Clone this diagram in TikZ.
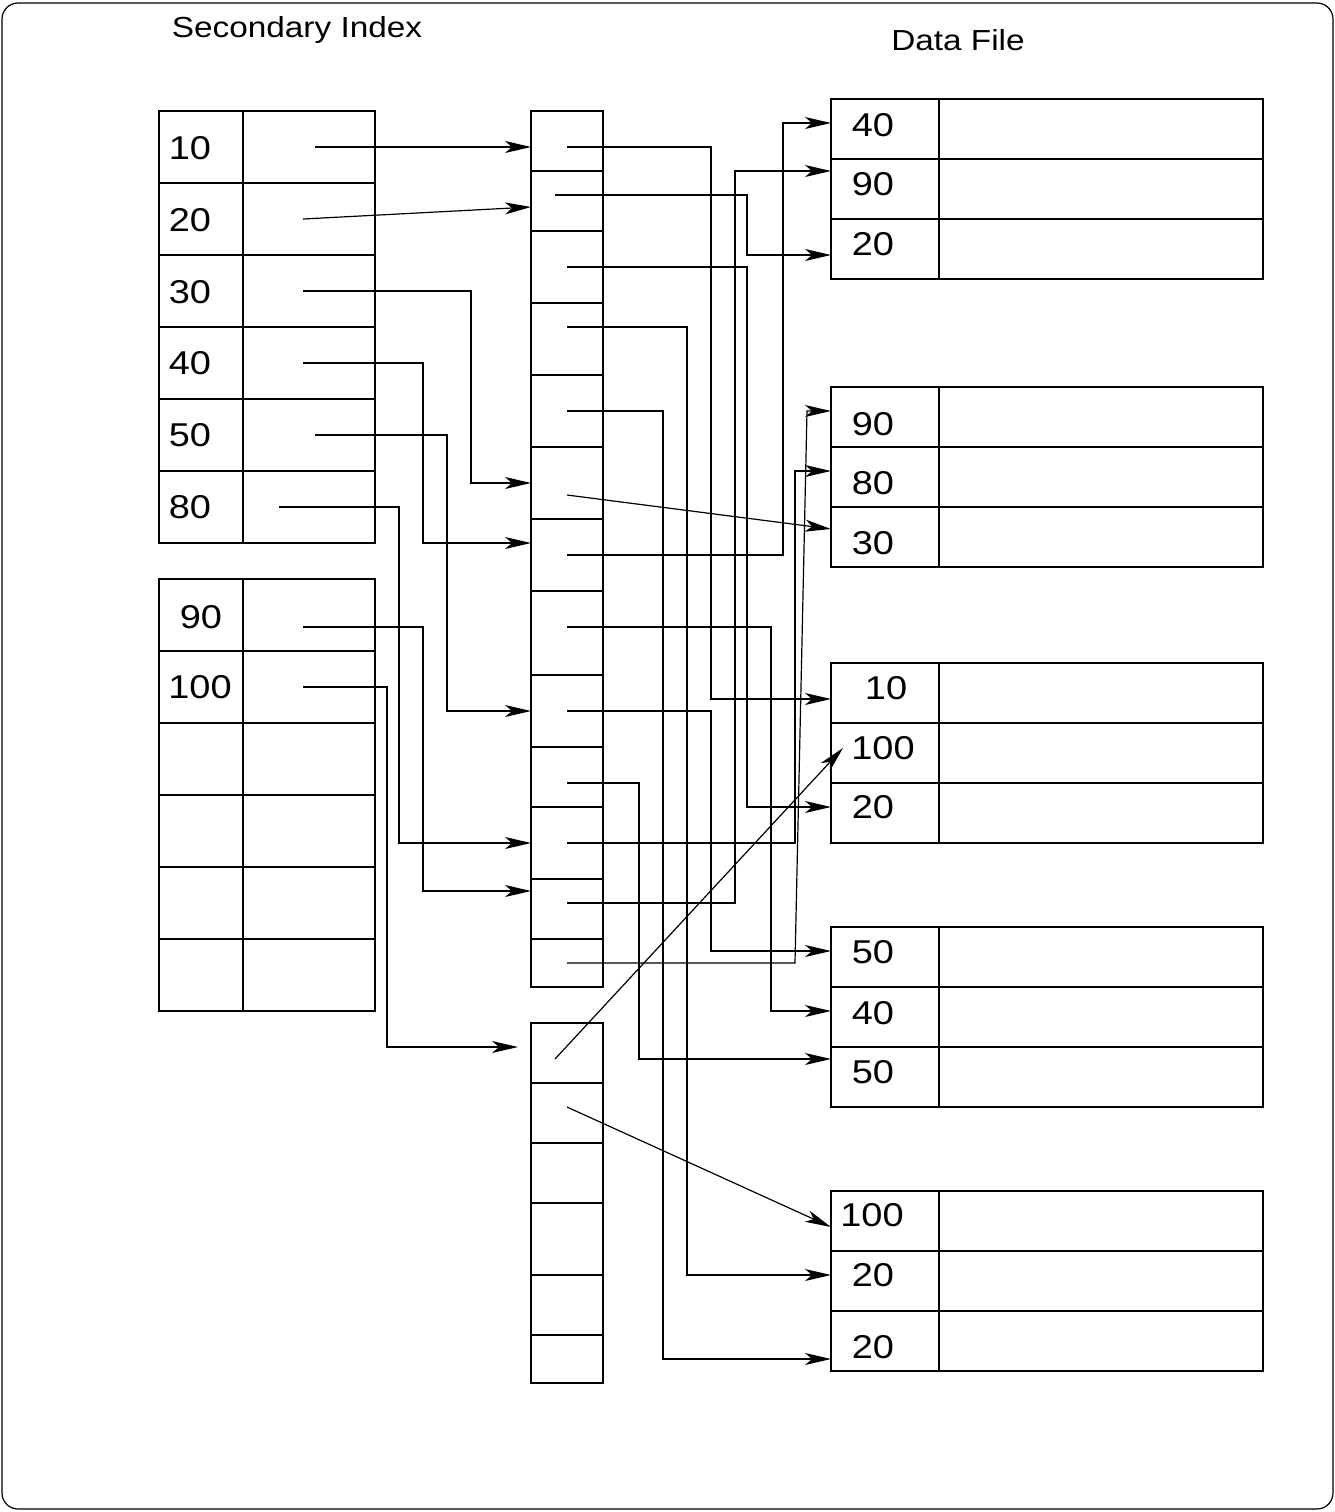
\documentclass[tikz,border=0pt]{standalone}
\usepackage{fontspec}
\setmainfont{Liberation Sans}[FakeStretch=1.15]
\usetikzlibrary{arrows.meta, positioning, calc}
\tikzset{
	cell/.style   ={rectangle, draw=black, line width=0.6pt, inner sep=0pt, outer sep=0pt},
	keycell/.style={cell, minimum width=42pt, minimum height=36pt},
	ptrcell/.style={cell, minimum width=66pt, minimum height=36pt},
	bucket/.style ={cell, minimum width=36pt},
	reckey/.style ={cell, minimum width=54pt, minimum height=30pt},
	recval/.style ={cell, minimum width=162pt, minimum height=30pt},
	lbl/.style    ={inner sep=0pt, font=\fontsize{16.5}{19}\selectfont},
	ttl/.style    ={inner sep=0pt, anchor=base, font=\fontsize{14.5}{17}\selectfont},
	% pointer arrows
	ptr/.style    ={-{Stealth[length=13pt, width=6pt, inset=3.5pt]}, line width=0.6pt},
}

\begin{document}
\begin{tikzpicture}[x=0.5pt, y=-0.5pt]
	\useasboundingbox (0,0) rectangle (1335,1512);
	\draw[line width=0.6pt, rounded corners=8pt] (2,3) rectangle (1333,1509);
	\node[ttl] (ttlidx) at (297,37) {Secondary Index};
	\node[ttl] (ttldata) at (958,50) {Data File};

	\foreach \i in {1,...,6}
	\node[keycell] (k\i) at (201,{75+72*\i}) {};
	\foreach \i in {7,...,12}
	\node[keycell] (k\i) at (201,{111+72*\i}) {};
	\foreach \i in {1,...,12}
	\node[ptrcell, right=0pt of k\i] (p\i) {};
	\foreach \n/\x/\y in {10/190/148, 20/190/220, 30/190/292, 40/190/363, 50/190/435, 80/190/507, 90/201/617, 100/200/687}
	\node[lbl] (key\n) at (\x,\y) {\n};

	\foreach \t/\b [count=\i] in {111/171, 171/231, 231/303, 303/375, 375/447, 447/519, 519/591, 591/675, 675/747, 747/807, 807/879, 879/939, 939/987}
	\node[bucket, minimum height={(\b-\t)*0.5pt}] (b\i) at (567,{(\t+\b)/2}) {};
	\foreach \t/\b [count=\i] in {1023/1083, 1083/1143, 1143/1203, 1203/1275, 1275/1335, 1335/1383}
	\node[bucket, minimum height={(\b-\t)*0.5pt}] (c\i) at (567,{(\t+\b)/2}) {};

	\foreach \y [count=\i] in {129,189,249,417,477,537,693,753,813,957,1017,1077,1221,1281,1341} {
		\node[reckey] (d\i) at (885,\y) {};
		\node[recval, right=0pt of d\i] (v\i) {};
	}
	\foreach \n/\x/\y [count=\i] in {40/873/125, 90/873/184, 20/873/244, 90/873/424, 80/873/483, 30/873/543, 10/886/688, 100/883/748, 20/873/807, 50/873/952, 40/873/1013, 50/873/1072, 100/872/1215, 20/873/1275, 20/873/1347}
	\node[lbl] (dk\i) at (\x,\y) {\n};

	\foreach \n/\x/\y in {10/315/147, 20/303/219, 30/303/291, 40/303/363, 50/315/435, 80/279/507, 90/303/627, 100/303/687}
	\coordinate (s\n) at (\x,\y);
	\foreach \x/\y [count=\i] in {567/147, 555/195, 567/267, 567/327, 567/411, 567/495, 567/555, 567/627, 567/711, 567/783, 567/843, 567/903, 567/963}
	\coordinate (q\i) at (\x,\y);
	\coordinate (r1) at (555,1059);
	\coordinate (r2) at (567,1107);

	\draw[ptr] (s10) -- (s10 -| b1.west);
	\draw[ptr] (s20) -- ([yshift=-3pt]b2.west);
	\draw[ptr] (s30) -- ++(168,0) |- (b6.west);
	\draw[ptr] (s40) -- ++(120,0) |- ([yshift=6pt]b7.west);
	\draw[ptr] (s50) -- ++(132,0) |- (b9.west);
	\draw[ptr] (s80) -- ++(120,0) |- (b11.west);
	\draw[ptr] (s90) -- ++(120,0) |- ([yshift=9pt]b12.west);
	\draw[ptr] (s100) -- ++(84,0) |- ([xshift=-6.5pt, yshift=3pt]c1.west);

	\draw[ptr] (q1) -- ++(144,0) |- ([yshift=-3pt]d7.west);
	\draw[ptr] (q2) -- ++(192,0) |- ([yshift=-3pt]d3.west);
	\draw[ptr] (q3) -- ++(180,0) |- ([yshift=3pt]d9.west);
	\draw[ptr] (q4) -- ++(120,0) |- ([yshift=3pt]d14.west);
	\draw[ptr] (q5) -- ++(96,0) |- ([yshift=-9pt]d15.west);
	\draw[ptr] (q6) -- ([yshift=4pt]d6.west);
	\draw[ptr] (q7) -- ++(216,0) |- ([yshift=3pt]d1.west);
	\draw[ptr] (q8) -- ++(204,0) |- ([yshift=3pt]d11.west);
	\draw[ptr] (q9) -- ++(144,0) |- ([yshift=3pt]d10.west);
	\draw[ptr] (q10) -- ++(72,0) |- ([yshift=9pt]d12.west);
	\draw[ptr] (q11) -- ++(228,0) |- ([yshift=3pt]d5.west);
	\draw[ptr] (q12) -- ++(168,0) |- ([yshift=9pt]d2.west);
	\draw[ptr] (q13) -- ++(228,0) -- ++(12,-552) -- ([yshift=3pt]d4.west);
	\draw[ptr] (r1) -- ([xshift=6pt, yshift=2.5pt]d8.west);
	\draw[ptr] (r2) -- ([yshift=-3pt]d13.west);
\end{tikzpicture}
\end{document}
